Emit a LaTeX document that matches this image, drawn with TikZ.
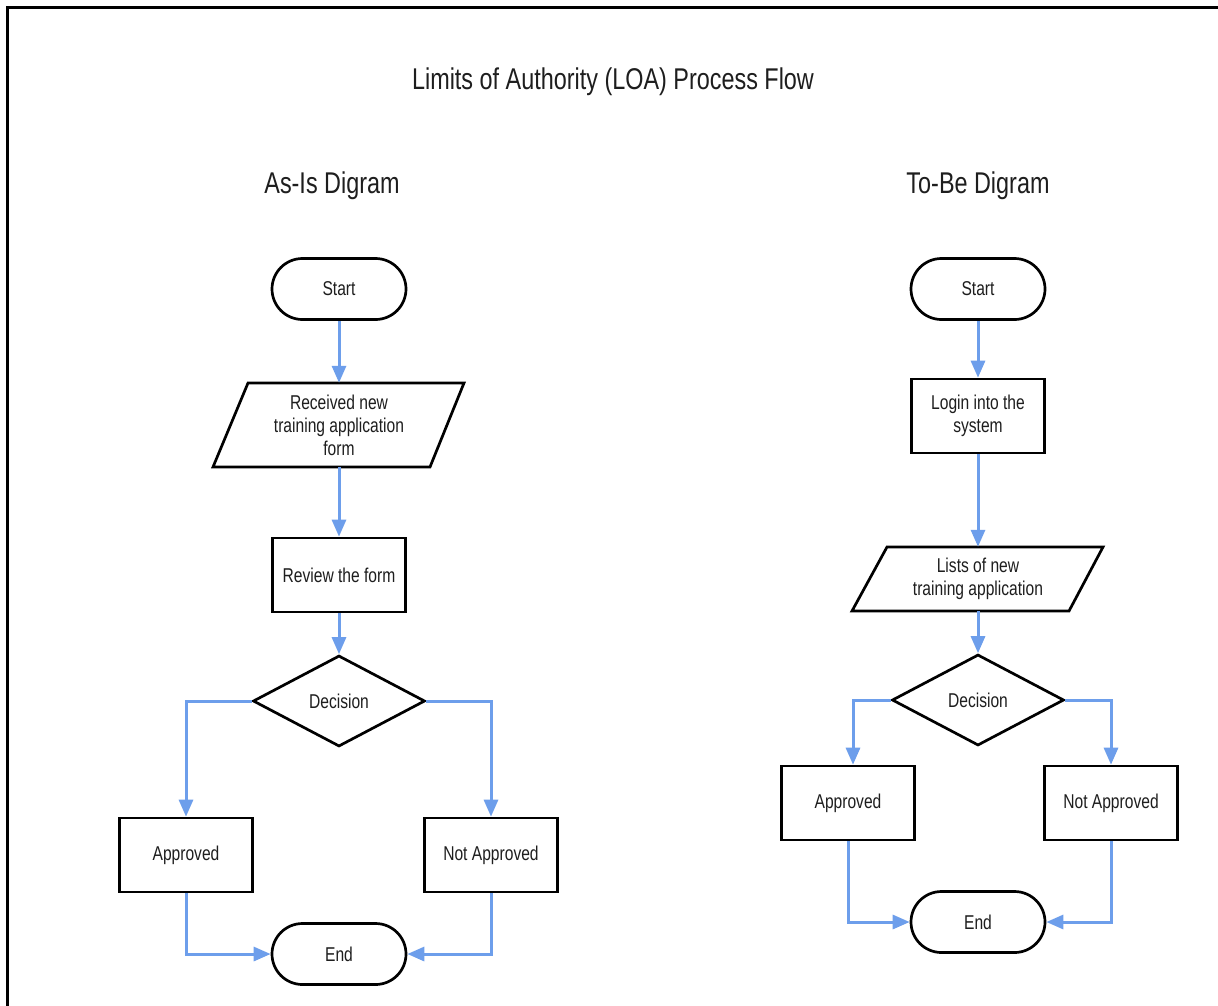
\documentclass[tikz,border=0pt]{standalone}
\usepackage{fontspec}
\setmainfont[FakeStretch=0.78]{Liberation Sans}
\usetikzlibrary{shapes.geometric,shapes.misc,arrows.meta}

\definecolor{ink}{HTML}{1E1E1E}
\definecolor{flow}{HTML}{6D9EEB}

\tikzset{
  boxtext/.style={font=\fontsize{20}{23}\selectfont, text=ink, align=center},
  heading/.style={font=\fontsize{30}{35}\selectfont, text=ink},
  outline/.style={draw=black, line width=2.7pt},
  terminal/.style={boxtext, outline, rounded rectangle, minimum width=134pt, minimum height=61pt, inner sep=0pt},
  procbox/.style={boxtext, outline, rectangle, minimum width=133pt, minimum height=74pt, inner sep=0pt},
  decide/.style={boxtext, outline, diamond, aspect=2, minimum width=172pt, minimum height=91pt, inner sep=0pt},
  iobox/.style={boxtext, rectangle, minimum width=216pt, inner sep=0pt},
  link/.style={draw=flow, line width=3pt, -{Triangle[length=17pt,width=14pt]}},
}

% parallelogram drawn around a named (invisible) node: #1 name, #2 half height
\newcommand{\slantbox}[2]{%
  \draw[outline, line join=miter]
    ([shift={(-91,-#2)}]#1.center) -- ([shift={(125,-#2)}]#1.center)
    -- ([shift={(91,#2)}]#1.center) -- ([shift={(-126,#2)}]#1.center) -- cycle;}

\begin{document}
\begin{tikzpicture}[x=1pt,y=-1pt]
  \useasboundingbox (0,0) rectangle (1218,1005);
  \fill[white] (0,0) rectangle (1218,1005);
  \begin{scope}
    \clip (0,0) rectangle (1218,1005);
    \draw[black, line width=3pt] (7,1040) -- (7,7) -- (1240,7);
  \end{scope}

  % titles
  \node[heading] (title) at (613,82) {Limits of Authority (LOA) Process Flow};
  \node[heading] (asis) at (332,186) {As-Is Digram};
  \node[heading] (tobe) at (978,186) {To-Be Digram};

  % ---------- as-is flow ----------
  \node[terminal] (s1) at (339,289) {Start};
  \node[iobox, minimum height=84pt] (recv) at (339,425) {Received new\\training application\\form};
  \slantbox{recv}{42}
  \node[procbox] (rev) at (339,575) {Review the form};
  \node[decide] (dec1) at (339,701) {Decision};
  \node[procbox] (ap1) at (186,855) {Approved};
  \node[procbox] (na1) at (491,855) {Not Approved};
  \node[terminal] (end1) at (339,954) {End};

  \draw[link] (s1.south) -- (recv.north);
  \draw[link] (recv.south) -- (rev.north);
  \draw[link] (rev.south) -- (dec1.north);
  \draw[link] (dec1.west) -| (ap1.north);
  \draw[link] (dec1.east) -| (na1.north);
  \draw[link] (ap1.south) |- (end1.west);
  \draw[link] (na1.south) |- (end1.east);

  % ---------- to-be flow ----------
  \node[terminal] (s2) at (978,289) {Start};
  \node[procbox] (login) at (978,416) {Login into the\\system};
  \node[iobox, minimum height=64pt] (lists) at (978,579) {Lists of new\\training application};
  \slantbox{lists}{32}
  \node[decide] (dec2) at (978,700) {Decision};
  \node[procbox] (ap2) at (848,803) {Approved};
  \node[procbox] (na2) at (1111,803) {Not Approved};
  \node[terminal] (end2) at (978,922) {End};

  \draw[link] (s2.south) -- (login.north);
  \draw[link] (login.south) -- (lists.north);
  \draw[link] (lists.south) -- (dec2.north);
  \draw[link] (dec2.west) -| ([xshift=5pt]ap2.north);
  \draw[link] (dec2.east) -| (na2.north);
  \draw[link] (ap2.south) |- (end2.west);
  \draw[link] (na2.south) |- (end2.east);
\end{tikzpicture}
\end{document}
